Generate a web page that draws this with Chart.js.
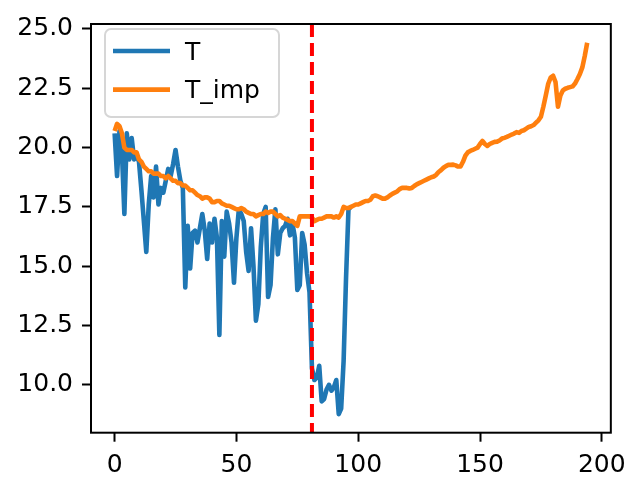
<!DOCTYPE html>
<html>
<head>
<meta charset="utf-8">
<script src="https://cdn.jsdelivr.net/npm/chart.js@4"></script>
<style>
  html, body { margin: 0; padding: 0; background: #fff; }
  #wrap { width: 635px; height: 486px; }
</style>
</head>
<body>
<div id="wrap"><canvas id="chart" width="635" height="486"></canvas></div>
<script>
// measured series, index 0..n
const tValues = [
  20.6, 18.8, 20.7, 19.8, 17.2, 20.6, 19.5, 20.4, 19.5, 19.7,
  19.4, 18.2, 16.9, 15.6, 17.6, 18.8, 17.9, 19.2, 17.6, 18.3,
  18.1, 18.6, 19.1, 18.8, 19.3, 19.9, 19.2, 18.6, 18.3, 14.1,
  16.7, 14.9, 16.4, 16.5, 16.0, 16.6, 17.2, 16.5, 15.3, 16.8,
  16.0, 17.0, 16.2, 12.1, 16.9, 15.4, 17.3, 16.8, 16.0, 14.3,
  16.2, 17.4, 17.2, 16.9, 15.6, 14.8, 16.6, 15.0, 12.7, 13.4,
  15.8, 17.2, 17.5, 13.7, 14.2, 16.2, 17.4, 15.5, 16.4, 16.6,
  16.7, 17.0, 16.3, 16.8, 16.2, 14.0, 14.2, 16.4, 15.9, 14.7,
  13.9, 10.7, 10.2, 10.3, 10.8, 9.3, 9.4, 9.8, 10.0, 9.75,
  9.9, 10.2, 8.76, 9.0, 11.0, 14.5, 17.4, 17.5
];

// imputed series, index 0..194
const tImpValues = [
  20.7, 21.0, 20.9, 20.6, 20.0, 19.9, 19.9, 19.9, 19.8, 19.8,
  19.5, 19.4, 19.2, 19.1, 19.0, 19.0, 18.9, 18.9, 18.9, 18.8,
  18.8, 18.7, 18.8, 18.7, 18.6, 18.6, 18.5, 18.5, 18.4, 18.4,
  18.3, 18.2, 18.2, 18.1, 18.0, 17.95, 17.85, 17.9, 17.9, 17.85,
  17.7, 17.7, 17.75, 17.75, 17.65, 17.6, 17.55, 17.55, 17.5, 17.45,
  17.4, 17.4, 17.45, 17.4, 17.3, 17.25, 17.2, 17.2, 17.1, 17.15,
  17.2, 17.2, 17.3, 17.25, 17.3, 17.3, 17.2, 17.1, 17.15, 17.05,
  17.0, 16.95, 16.9, 16.9, 16.8, 16.7, 17.1, 17.1, 17.1, 17.1,
  17.1, 17.05, 16.9, 16.95, 17.0, 17.0, 17.05, 17.1, 17.1, 17.1,
  17.05, 17.1, 17.05, 17.2, 17.5, 17.45, 17.45, 17.5, 17.55, 17.6,
  17.6, 17.65, 17.7, 17.75, 17.75, 17.8, 17.95, 17.98, 17.95, 17.9,
  17.85, 17.85, 17.9, 17.98, 18.05, 18.1, 18.15, 18.25, 18.3, 18.3,
  18.3, 18.28, 18.3, 18.38, 18.45, 18.5, 18.55, 18.6, 18.65, 18.7,
  18.75, 18.78, 18.85, 18.97, 19.05, 19.15, 19.22, 19.27, 19.27, 19.28,
  19.25, 19.2, 19.2, 19.4, 19.66, 19.8, 19.86, 19.9, 19.95, 20.0,
  20.15, 20.28, 20.15, 20.07, 20.15, 20.2, 20.24, 20.25, 20.3, 20.38,
  20.41, 20.45, 20.5, 20.55, 20.59, 20.65, 20.62, 20.7, 20.73, 20.8,
  20.87, 20.9, 20.95, 21.05, 21.15, 21.3, 21.72, 22.2, 22.69, 22.95,
  23.03, 22.76, 21.72, 22.2, 22.41, 22.48, 22.52, 22.55, 22.58, 22.7,
  22.89, 23.1, 23.38, 23.86, 24.42
];

const seriesNames = ['T', 'T_imp'];
const xTicks = [0, 50, 100, 150, 200];
const yTicks = [10.0, 12.5, 15.0, 17.5, 20.0, 22.5, 25.0];
const splitAt = 81;

const FONT = { family: 'DejaVu Sans', size: 25 };
const LW = 4.6;

const toPoints = arr => arr.map((v, i) => ({ x: i, y: v }));

const framePlugin = {
  id: 'frame',
  afterDatasetsDraw(chart) {
    const { ctx, chartArea: a, scales } = chart;
    // dashed split line
    const px = scales.x.getPixelForValue(splitAt);
    ctx.save();
    ctx.strokeStyle = '#ff0000';
    ctx.lineWidth = 4;
    ctx.setLineDash([13, 6]);
    ctx.beginPath();
    ctx.moveTo(px, a.top);
    ctx.lineTo(px, a.bottom);
    ctx.stroke();
    ctx.setLineDash([]);
    // axes box
    ctx.strokeStyle = '#000';
    ctx.lineWidth = 2;
    ctx.strokeRect(a.left, a.top, a.right - a.left, a.bottom - a.top);
    ctx.restore();
  }
};

const legendPlugin = {
  id: 'boxLegend',
  afterDraw(chart) {
    const { ctx } = chart;
    const x0 = 105, y0 = 29, w = 174, h = 88, r = 6;
    ctx.save();
    ctx.fillStyle = 'rgba(255,255,255,0.8)';
    ctx.strokeStyle = '#d6d6d6';
    ctx.lineWidth = 2;
    ctx.beginPath();
    ctx.roundRect(x0, y0, w, h, r);
    ctx.fill();
    ctx.stroke();
    ctx.font = `${FONT.size}px "${FONT.family}"`;
    ctx.textBaseline = 'middle';
    chart.data.datasets.forEach((ds, i) => {
      const y = 51 + i * 38.6;
      ctx.strokeStyle = ds.borderColor;
      ctx.lineWidth = LW;
      ctx.beginPath();
      ctx.moveTo(113, y);
      ctx.lineTo(170, y);
      ctx.stroke();
      ctx.fillStyle = '#000';
      ctx.fillText(ds.label, 185, y + 2);
    });
    ctx.restore();
  }
};

new Chart(document.getElementById('chart'), {
  type: 'line',
  data: {
    datasets: [
      {
        label: seriesNames[0],
        data: toPoints(tValues),
        borderColor: '#1f77b4',
        borderWidth: LW,
        borderJoinStyle: 'round',
        pointRadius: 0,
        order: 2
      },
      {
        label: seriesNames[1],
        data: toPoints(tImpValues),
        borderColor: '#ff7f0e',
        borderWidth: LW,
        borderJoinStyle: 'round',
        pointRadius: 0,
        order: 1
      }
    ]
  },
  options: {
    responsive: false,
    animation: false,
    layout: { padding: { left: 0, top: 16, right: 19, bottom: 0 } },
    plugins: { legend: { display: false }, tooltip: { enabled: false } },
    scales: {
      x: {
        type: 'linear',
        min: -9.7,
        max: 203.7,
        afterBuildTicks: s => { s.ticks = xTicks.map(v => ({ value: v })); },
        afterFit: s => { s.height = 53.3; },
        grid: { drawOnChartArea: false, drawTicks: true, tickLength: 9, tickWidth: 2, tickColor: '#000' },
        border: { display: false },
        ticks: { color: '#000', font: FONT, padding: 9, maxRotation: 0, callback: v => String(v) }
      },
      y: {
        type: 'linear',
        min: 7.98,
        max: 25.21,
        afterBuildTicks: s => { s.ticks = yTicks.map(v => ({ value: v })); },
        afterFit: s => { s.width = 91; },
        grid: { drawOnChartArea: false, drawTicks: true, tickLength: 9, tickWidth: 2, tickColor: '#000' },
        border: { display: false },
        ticks: { color: '#000', font: FONT, padding: 9, callback: v => v.toFixed(1) }
      }
    }
  },
  plugins: [framePlugin, legendPlugin]
});
</script>
</body>
</html>
